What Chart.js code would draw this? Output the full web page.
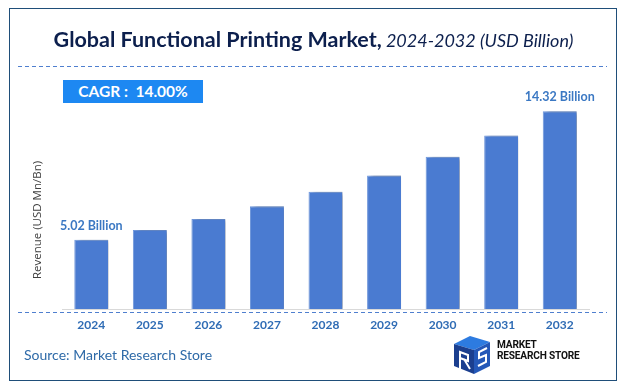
<!DOCTYPE html>
<html>
<head>
<meta charset="utf-8">
<script src="https://cdn.jsdelivr.net/npm/chart.js@4.4.1/dist/chart.umd.min.js"></script>
<style>
  html, body { margin:0; padding:0; background:#fff; }
  #wrap { position:relative; width:627px; height:391px; overflow:hidden; font-family: Lato, "Open Sans", sans-serif; }
  #c { position:absolute; left:0; top:0; }
  .frame { position:absolute; left:9px; top:8px; width:606px; height:371px; border:1.5px solid #1f4e79; box-sizing:content-box; }
  .title { position:absolute; left:0; top:26px; width:627px; text-align:center; color:#0c1f4d; white-space:nowrap; }
  .title b { font-size:21.5px; font-weight:700; }
  .title i { font-size:18px; font-weight:400; }
  .cagr { position:absolute; left:63px; top:80px; width:140px; height:23px; background:#1d88f2; color:#fff; font-weight:700; font-size:15.5px; line-height:23px; text-align:center; }
  .ytitle { position:absolute; left:36px; top:220px; transform:translate(-50%,-50%) rotate(-90deg); font-size:11.5px; color:#404040; white-space:nowrap; font-family:"Open Sans", sans-serif; }
  .source { position:absolute; left:24px; top:346px; font-size:14px; color:#2e6aa8; white-space:nowrap; }
  .logo { position:absolute; left:497px; top:339px; font-family:"Roboto", sans-serif; font-weight:700; font-size:11px; line-height:11px; color:#111; letter-spacing:-0.2px; transform:scaleX(0.92); transform-origin:left top; }
</style>
</head>
<body>
<div id="wrap">
  <canvas id="c" width="627" height="391"></canvas>
  <div class="frame"></div>
  <div class="title"><b>Global Functional Printing Market,</b> <i>2024-2032 (USD Billion)</i></div>
  <div class="cagr">CAGR :&nbsp; 14.00%</div>
  <div class="ytitle">Revenue (USD Mn/Bn)</div>
  <div class="source">Source: Market Research Store</div>
  <div class="logo">MARKET<br>RESEARCH STORE</div>
</div>
<script>
// ---- data ----
const years = ["2024","2025","2026","2027","2028","2029","2030","2031","2032"];
const revenue = [5.02, 5.72, 6.52, 7.44, 8.48, 9.67, 11.02, 12.56, 14.32];
const shownLabels = ["5.02 Billion","","","","","","","","14.32 Billion"];

const barShadow = {
  id:'barShadow',
  beforeDatasetsDraw(chart){
    const ctx = chart.ctx; ctx.save();
    ctx.shadowColor = 'rgba(0,0,0,0.5)';
    ctx.shadowOffsetX = 4; ctx.shadowOffsetY = 1; ctx.shadowBlur = 4;
  },
  afterDatasetsDraw(chart){
    chart.ctx.restore();
    const ctx = chart.ctx;
    const meta = chart.getDatasetMeta(0);
    ctx.save();
    ctx.font = 'bold 12.5px Lato, sans-serif';
    ctx.fillStyle = '#3b78c3';
    ctx.textAlign = 'center'; ctx.textBaseline = 'middle';
    meta.data.forEach((el,i)=>{
      if (shownLabels[i]) ctx.fillText(shownLabels[i], el.x, el.y - 14);
    });
    ctx.restore();
  }
};

const deco = {
  id:'deco',
  afterDraw(chart){
    const ctx = chart.ctx; ctx.save();
    ctx.strokeStyle = '#4f7fcf'; ctx.lineWidth = 1; ctx.setLineDash([4,3]);
    ctx.beginPath(); ctx.moveTo(18,66.5); ctx.lineTo(607,66.5); ctx.stroke();
    ctx.beginPath(); ctx.moveTo(18,312.5); ctx.lineTo(607,312.5); ctx.stroke();
    ctx.setLineDash([]);
    // logo icon
    const ox=452, oy=336;
    ctx.fillStyle='#2d7be0';
    ctx.beginPath(); ctx.moveTo(ox+2,oy+8); ctx.lineTo(ox+18,oy); ctx.lineTo(ox+38,oy+6); ctx.lineTo(ox+22,oy+14); ctx.closePath(); ctx.fill();
    ctx.fillStyle='#1b3f8f';
    ctx.beginPath(); ctx.moveTo(ox+2,oy+8); ctx.lineTo(ox+22,oy+14); ctx.lineTo(ox+22,oy+38); ctx.lineTo(ox+2,oy+30); ctx.closePath(); ctx.fill();
    ctx.fillStyle='#2458b8';
    ctx.beginPath(); ctx.moveTo(ox+22,oy+14); ctx.lineTo(ox+38,oy+6); ctx.lineTo(ox+38,oy+30); ctx.lineTo(ox+22,oy+38); ctx.closePath(); ctx.fill();
    ctx.strokeStyle='#ffffff'; ctx.lineWidth=2;
    ctx.beginPath(); ctx.moveTo(ox+8,oy+36); ctx.lineTo(ox+8,oy+16); ctx.lineTo(ox+16,oy+19); ctx.lineTo(ox+16,oy+25); ctx.lineTo(ox+8,oy+22); ctx.moveTo(ox+12,oy+23); ctx.lineTo(ox+18,oy+33); ctx.stroke();
    ctx.beginPath(); ctx.moveTo(ox+35,oy+12); ctx.lineTo(ox+27,oy+16); ctx.lineTo(ox+27,oy+22); ctx.lineTo(ox+34,oy+19); ctx.lineTo(ox+34,oy+26); ctx.lineTo(ox+26,oy+30); ctx.stroke();
    ctx.restore();
  }
};

new Chart(document.getElementById('c'), {
  type:'bar',
  data:{ labels: years, datasets:[{ data: revenue, backgroundColor:'#4a7bd1', borderColor:'#6f97dc', borderWidth:{top:1,left:1,right:0,bottom:0}, barPercentage:0.58, categoryPercentage:1.0 }]},
  options:{
    responsive:false, animation:false, devicePixelRatio:1,
    layout:{ padding:{ left:62, right:38, top:88, bottom:0 } },
    plugins:{ legend:{display:false}, tooltip:{enabled:false}, title:{display:false} },
    scales:{
      x:{
        grid:{ display:false, drawTicks:false },
        border:{ display:true, color:'#d9d9d9', width:1 },
        ticks:{ color:'#2f6cb5', font:{ family:'Lato', weight:'bold', size:12 }, padding:9 },
        afterFit(s){ s.height = 82; }
      },
      y:{ display:false, min:0, max:16 }
    }
  },
  plugins:[barShadow, deco]
});
</script>
</body>
</html>
